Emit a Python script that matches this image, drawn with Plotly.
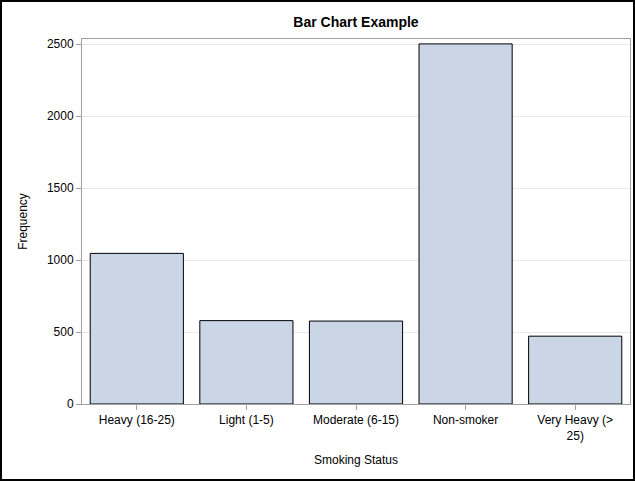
import plotly.graph_objects as go

categories = ["Heavy (16-25)", "Light (1-5)", "Moderate (6-15)", "Non-smoker", "Very Heavy (><br>25)"]
frequency = [1046, 579, 576, 2501, 471]
y_ticks = [0, 500, 1000, 1500, 2000, 2500]

W, H = 635, 481
ml, mr, mt, mb = 82, 5, 39, 77
pw, ph = W - ml - mr, H - mt - mb

fig = go.Figure(go.Bar(
    x=categories, y=frequency,
    width=0.85,
    marker=dict(color="#CAD5E5", line=dict(color="#000000", width=1)),
))

font = "Liberation Sans, Arial, sans-serif"
fig.update_layout(
    width=W, height=H,
    margin=dict(l=ml, r=mr, t=mt, b=mb),
    paper_bgcolor="white", plot_bgcolor="white",
    font=dict(family=font, size=12, color="#000000"),
    title=dict(text="<b>Bar Chart Example</b>", x=(ml + pw / 2) / W, xanchor="center",
               y=1 - 22 / H, yanchor="middle", font=dict(size=14, family=font)),
    showlegend=False,
)
fig.update_xaxes(
    title=dict(text="Smoking Status", font=dict(size=12), standoff=13),
    range=[-0.5, 4.5],
    showline=True, linecolor="#A0A0A0", linewidth=1, mirror=True,
    ticks="outside", ticklen=5, tickcolor="#A0A0A0", tickfont=dict(size=12),
    showgrid=False, tickangle=0,
)
fig.update_yaxes(
    title=dict(text="Frequency", font=dict(size=12), standoff=16),
    range=[0, 2535], tickvals=y_ticks,
    showline=True, linecolor="#A0A0A0", linewidth=1, mirror=True,
    ticks="outside", ticklen=5, tickcolor="#A0A0A0", tickfont=dict(size=12),
    showgrid=True, gridcolor="#E8E8E8", gridwidth=1, zeroline=False,
)
fig.add_shape(type="rect", xref="paper", yref="paper",
              x0=(-ml + 1) / pw, x1=1 + (mr - 1) / pw,
              y0=(-mb + 1) / ph, y1=1 + (mt - 1) / ph,
              line=dict(color="#000000", width=2), fillcolor="rgba(0,0,0,0)", layer="above")

fig.write_html("out.html")
